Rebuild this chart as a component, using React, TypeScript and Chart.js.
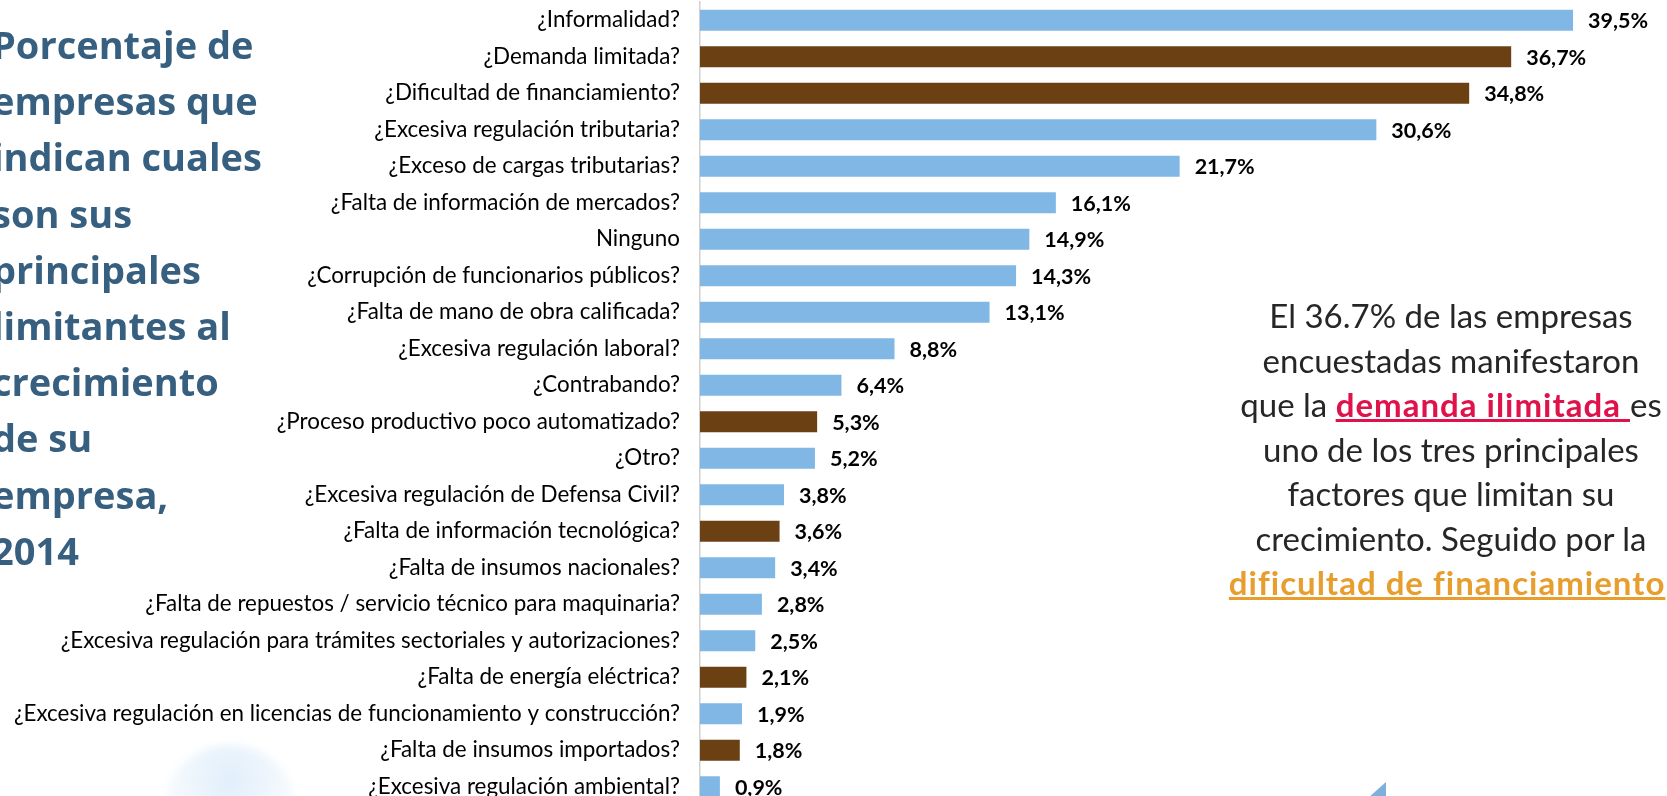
import React, { useEffect, useRef } from "react";
import Chart from "chart.js/auto";

const categories = [
  "¿Informalidad?",
  "¿Demanda limitada?",
  "¿Dificultad de financiamiento?",
  "¿Excesiva regulación tributaria?",
  "¿Exceso de cargas tributarias?",
  "¿Falta de información de mercados?",
  "Ninguno",
  "¿Corrupción de funcionarios públicos?",
  "¿Falta de mano de obra calificada?",
  "¿Excesiva regulación laboral?",
  "¿Contrabando?",
  "¿Proceso productivo poco automatizado?",
  "¿Otro?",
  "¿Excesiva regulación de Defensa Civil?",
  "¿Falta de información tecnológica?",
  "¿Falta de insumos nacionales?",
  "¿Falta de repuestos / servicio técnico para maquinaria?",
  "¿Excesiva regulación para trámites sectoriales y autorizaciones?",
  "¿Falta de energía eléctrica?",
  "¿Excesiva regulación en licencias de funcionamiento y construcción?",
  "¿Falta de insumos importados?",
  "¿Excesiva regulación ambiental?",
];

const values = [
  39.5, 36.7, 34.8, 30.6, 21.7, 16.1, 14.9, 14.3, 13.1, 8.8, 6.4, 5.3, 5.2, 3.8,
  3.6, 3.4, 2.8, 2.5, 2.1, 1.9, 1.8, 0.9,
];

// true = highlighted (brown) factor
const highlighted = [
  false, true, true, false, false, false, false, false, false, false, false,
  true, false, false, true, false, false, false, true, false, true, false,
];

const titleLines = [
  "Porcentaje de",
  "empresas que",
  "indican cuales",
  "son sus",
  "principales",
  "limitantes al",
  "crecimiento",
  "de su",
  "empresa,",
  "2014",
];

const BLUE = "#80B7E5";
const BROWN = "#6B4114";
const FONT = "Lato, 'Open Sans', sans-serif";

function BarChart() {
  const ref = useRef<HTMLCanvasElement | null>(null);
  useEffect(() => {
    if (!ref.current) return;
    const labelPlugin = {
      id: "valueLabels",
      afterDatasetsDraw(chart: any) {
        const ctx = chart.ctx;
        const meta = chart.getDatasetMeta(0);
        ctx.save();
        ctx.font = `bold 21.5px ${FONT}`;
        ctx.fillStyle = "#000";
        ctx.textAlign = "left";
        ctx.textBaseline = "middle";
        meta.data.forEach((bar: any, i: number) => {
          const txt = values[i].toFixed(1).replace(".", ",") + "%";
          ctx.fillText(txt, bar.x + 15, bar.y + 1);
        });
        ctx.restore();
      },
    };
    const chart = new Chart(ref.current, {
      type: "bar",
      data: {
        labels: categories,
        datasets: [
          {
            data: values,
            backgroundColor: highlighted.map((h) => (h ? BROWN : BLUE)),
            barPercentage: 0.575,
            categoryPercentage: 1,
          },
        ],
      },
      options: {
        indexAxis: "y",
        responsive: false,
        animation: false,
        layout: { padding: { top: 2, right: 0, left: 0, bottom: 0 } },
        plugins: {
          legend: { display: false },
          tooltip: { enabled: false },
        },
        scales: {
          x: { display: false, min: 0, max: 43.75 },
          y: {
            afterFit: (s: any) => {
              s.width = 700;
              s.paddingTop = 0;
              s.paddingBottom = 0;
            },
            grid: { display: false, drawTicks: false },
            border: { display: true, color: "#D0D0D0", width: 1.5 },
            ticks: {
              color: "#000",
              autoSkip: false,
              padding: 20,
              font: { family: FONT, size: 22.4 },
            },
          },
        },
      },
      plugins: [labelPlugin],
    } as any);
    return () => chart.destroy();
  }, []);
  return (
    <canvas
      ref={ref}
      width={1667}
      height={805}
      style={{ position: "absolute", left: 0, top: 0, width: 1667, height: 805 }}
    />
  );
}

export default function App() {
  const lineStyle: React.CSSProperties = { whiteSpace: "nowrap" };
  const boldSpan: React.CSSProperties = {
    fontWeight: 700,
    textDecoration: "underline",
    letterSpacing: "1px",
  };
  return (
    <div
      style={{
        position: "fixed",
        left: 0,
        top: 0,
        width: 1667,
        height: 796,
        overflow: "hidden",
        background: "#fff",
      }}
    >
      {/* faint decorative shapes */}
      <div
        style={{
          position: "absolute",
          left: 165,
          top: 745,
          width: 130,
          height: 120,
          borderRadius: "60% 60% 0 0",
          background:
            "radial-gradient(ellipse at 50% 30%, rgba(200,225,246,0.55), rgba(225,238,250,0.25) 70%, rgba(255,255,255,0) 100%)",
          filter: "blur(4px)",
        }}
      />
      <div
        style={{
          position: "absolute",
          left: 1368,
          top: 782,
          width: 0,
          height: 0,
          borderLeft: "18px solid transparent",
          borderBottom: "16px solid #7EB0DE",
          filter: "blur(0.5px)",
        }}
      />
      <BarChart />
      <div
        style={{
          position: "absolute",
          left: -8,
          top: 16,
          fontFamily: "'Open Sans', Lato, sans-serif",
          fontWeight: 700,
          fontSize: 38,
          lineHeight: "56.2px",
          color: "#365F80",
        }}
      >
        {titleLines.map((l, i) => (
          <div key={i} style={lineStyle}>
            {l}
          </div>
        ))}
      </div>
      <div
        style={{
          position: "absolute",
          left: 1151,
          top: 293,
          width: 600,
          textAlign: "center",
          fontFamily: FONT,
          fontSize: 33,
          lineHeight: "44.5px",
          color: "#262626",
          fontVariantLigatures: "none",
        }}
      >
        <div style={lineStyle}>El 36.7% de las empresas</div>
        <div style={lineStyle}>encuestadas manifestaron</div>
        <div style={lineStyle}>
          que la <span style={{ ...boldSpan, color: "#E0124B" }}>demanda ilimitada </span>
          es
        </div>
        <div style={lineStyle}>uno de los tres principales</div>
        <div style={lineStyle}>factores que limitan su</div>
        <div style={lineStyle}>crecimiento. Seguido por la</div>
        <div style={lineStyle}>
          <span style={{ ...boldSpan, color: "#E89E2E" }}>dificultad de financiamiento</span>.
        </div>
      </div>
    </div>
  );
}
